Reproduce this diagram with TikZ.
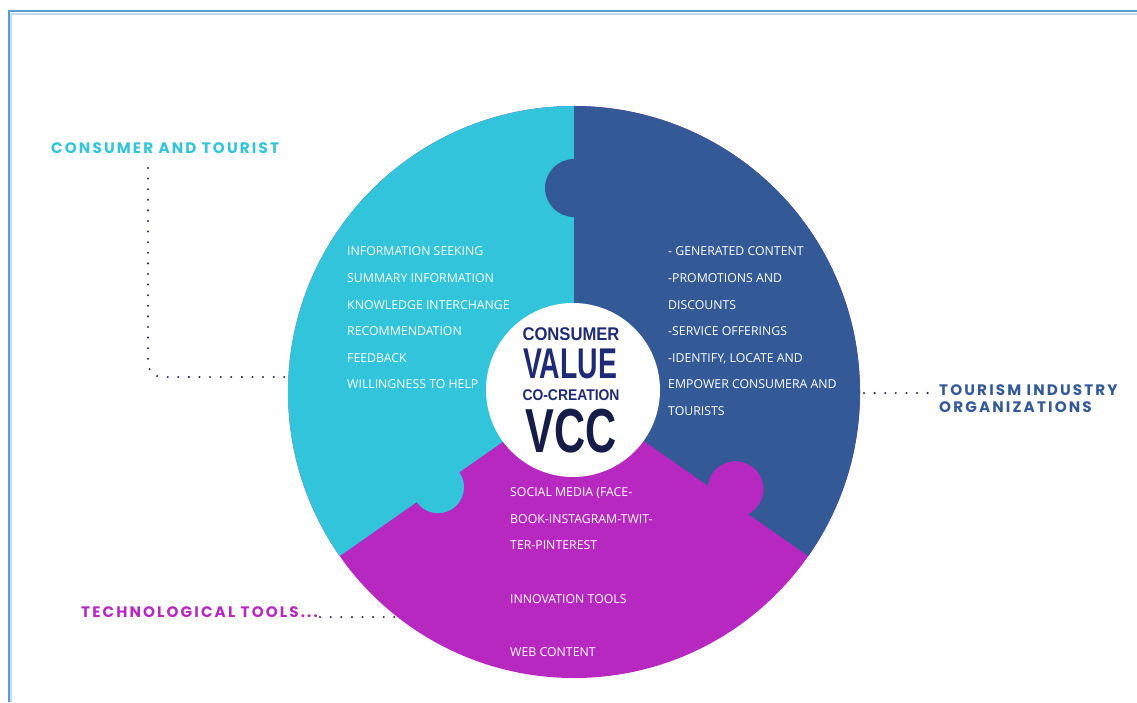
\documentclass[tikz,border=0pt]{standalone}
\usepackage{graphicx}
\usepackage{fontspec}
\newfontfamily\innerfont{Open Sans}
\newfontfamily\tagfont[LetterSpace=14]{Poppins}
\newfontfamily\hubfont{Liberation Sans}
\definecolor{tourcyan}{RGB}{49,196,218}
\definecolor{tourblue}{RGB}{51,90,150}
\definecolor{tourpurple}{RGB}{182,40,192}
\definecolor{hubnavy}{RGB}{30,42,118}
\definecolor{hubdark}{RGB}{22,28,72}
\definecolor{dotgrey}{RGB}{45,45,80}
\definecolor{framecol}{RGB}{91,155,213}
\tikzset{
	inner/.style={text=white, font=\innerfont\fontsize{12.3}{14}\selectfont, anchor=base west, inner sep=0pt},
	tag/.style={font=\tagfont\bfseries\fontsize{15.2}{17}\selectfont, anchor=base west, inner sep=0pt},
	hub/.style={anchor=base, inner sep=0pt, font=\hubfont\bfseries},
	dots/.style={dotgrey, line width=2.3pt, line cap=round, dash pattern=on 0pt off 10.6pt}
}
\begin{document}
\begin{tikzpicture}[x=1pt,y=1pt]
		\useasboundingbox (0,0) rectangle (1137,702);
		\draw[framecol!35, line width=2pt] (10.5,0) -- (10.5,688) -- (1137,688);
		\draw[framecol, line width=2pt] (8.5,0) -- (8.5,690.5) -- (1137,690.5);
		\coordinate (c) at (574,310);
		\fill[tourpurple] (c) circle (286);
		\fill[tourcyan] (c) -- ++(90:286) arc (90:215:286) -- cycle;
		\fill[tourblue] (c) -- ++(-35:286) arc (-35:90:286) -- cycle;
		\fill[tourblue] ([shift={(90:204)}]c) circle (29);
		\fill[tourcyan] ([shift={(215:166)}]c) circle (26);
		\fill[tourpurple] ([shift={(325:188)}]c) ++(55:13) circle (28);
		\node[circle, fill=white, minimum size=174pt, inner sep=0pt] (hub) at (573,312) {};
		\node[hub, text=hubnavy] (w1) at (571,361) {\resizebox*{97pt}{13pt}{CONSUMER}};
		\node[hub, text=hubnavy] (w2) at (570,323) {\resizebox*{94pt}{30pt}{VALUE}};
		\node[hub, text=hubnavy] (w3) at (571,301) {\resizebox*{97pt}{11pt}{CO-CREATION}};
		\node[hub, text=hubdark] (w4) at (571,249) {\resizebox*{91pt}{44pt}{VCC}};
		\foreach \txt [count=\i from 0] in {INFORMATION SEEKING, SUMMARY INFORMATION, KNOWLEDGE INTERCHANGE, RECOMMENDATION, FEEDBACK, WILLINGNESS TO HELP}
			\node[inner] (cl\i) at (347,446-26.6*\i) {\txt};
		\foreach \txt [count=\i from 0] in {- GENERATED CONTENT, -PROMOTIONS AND, DISCOUNTS, -SERVICE OFFERINGS, {-IDENTIFY, LOCATE AND}, EMPOWER CONSUMERA AND, TOURISTS}
			\node[inner] (tl\i) at (668,446-26.6*\i) {\txt};
		\foreach \y/\txt [count=\i] in {206/SOCIAL MEDIA (FACE-, 179/BOOK-INSTAGRAM-TWIT-, 153/TER-PINTEREST, 99/INNOVATION TOOLS, 46/WEB CONTENT}
			\node[inner] (ml\i) at (510,\y) {\txt};
		\node[tag, text=tourcyan] (ct) at (51,548) {CONSUMER AND TOURIST};
		\node[tag, text=tourpurple] (tt) at (81,85) {TECHNOLOGICAL TOOLS...};
		\node[tag, text=tourblue] (ti) at (939,306) {TOURISM INDUSTRY};
		\node[tag, text=tourblue] (to) at (939,289) {ORGANIZATIONS};
		\coordinate (ct-a) at (148,534);
		\coordinate (ct-b) at (287,325);
		\draw[dots, rounded corners=14pt] (ct-a) |- (ct-b);
		\coordinate (tt-b) at (397,85);
		\draw[dots] ([xshift=2pt]tt.base east) -- (tt-b);
		\coordinate (ti-a) at (864,309);
		\draw[dots] (ti-a) -- ([shift={(-3pt,3pt)}]ti.base west);
	\end{tikzpicture}
\end{document}
